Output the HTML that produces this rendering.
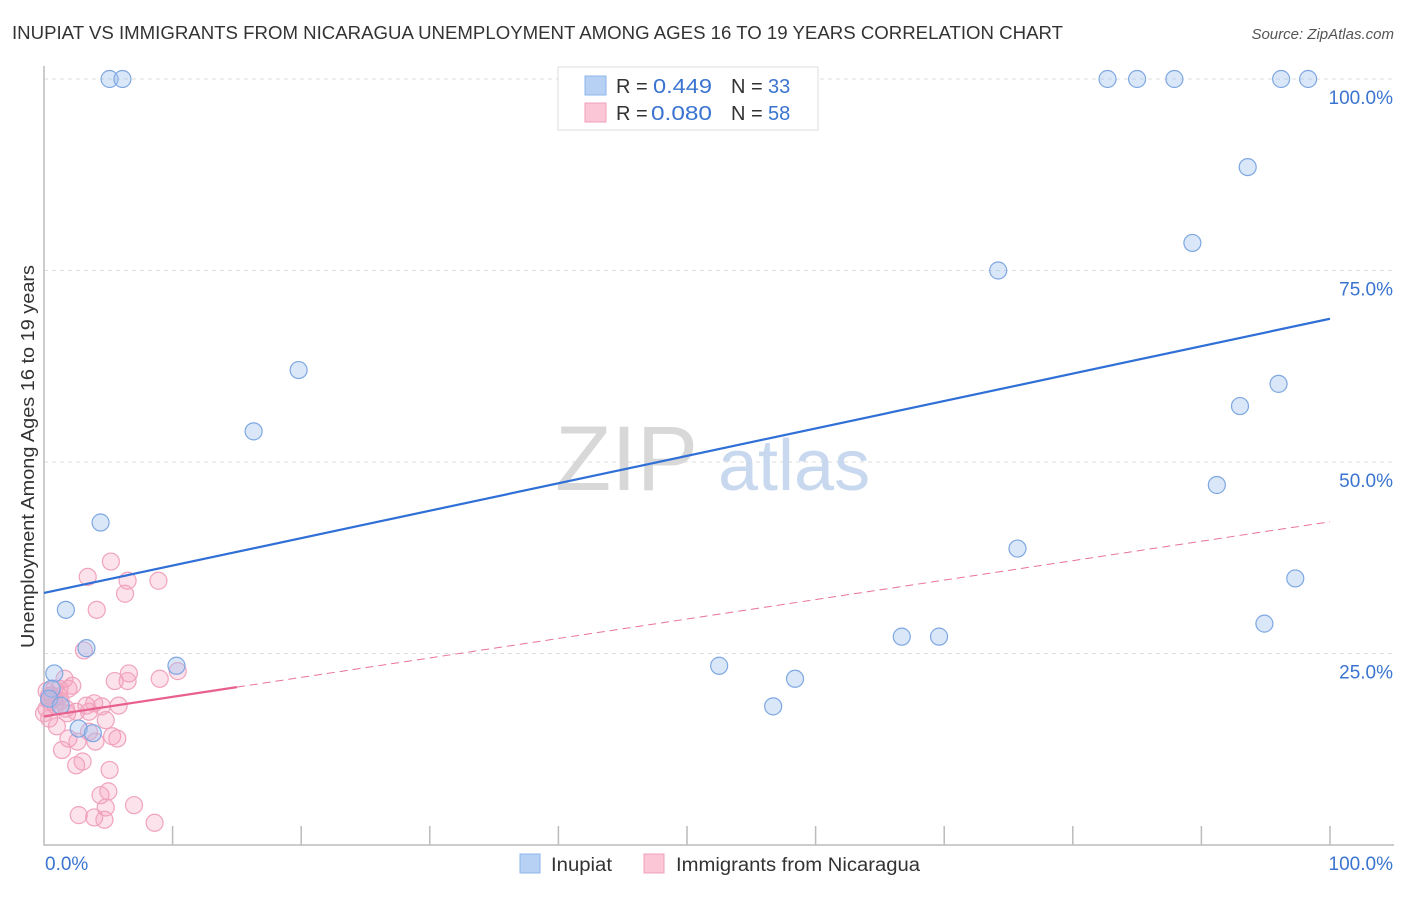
<!DOCTYPE html>
<html><head><meta charset="utf-8">
<style>
body{margin:0;background:#fff;font-family:"Liberation Sans",sans-serif;}
svg text{font-family:"Liberation Sans",sans-serif;}
</style></head>
<body>
<svg id="chart" width="1406" height="892" xmlns="http://www.w3.org/2000/svg">
<text x="12" y="39" font-size="18" fill="#333" textLength="1051" lengthAdjust="spacingAndGlyphs">INUPIAT VS IMMIGRANTS FROM NICARAGUA UNEMPLOYMENT AMONG AGES 16 TO 19 YEARS CORRELATION CHART</text>
<text x="1394" y="39" font-size="15" fill="#555" font-style="italic" text-anchor="end">Source: ZipAtlas.com</text>
<text transform="translate(34,648) rotate(-90)" font-size="18" fill="#333" textLength="383" lengthAdjust="spacingAndGlyphs">Unemployment Among Ages 16 to 19 years</text>
<g id="grid"></g>
<text x="555" y="490" font-size="92" fill="#d8d8d8" font-family="Liberation Serif">ZIP</text>
<text x="718" y="490" font-size="72" fill="#c8d8ee">atlas</text>
<g id="marks"></g>
<g>
<rect x="558" y="67" width="260" height="63" fill="#fff" stroke="#ddd"/>
<rect x="585" y="76" width="21" height="19" fill="#b7d1f5" stroke="#8db4ea"/>
<rect x="585" y="103" width="21" height="19" fill="#fbc6d6" stroke="#f0a0ba"/>
<text x="616" y="93" font-size="20" fill="#333">R = </text><text x="653" y="93" font-size="20" fill="#3a74d0" textLength="59" lengthAdjust="spacingAndGlyphs">0.449</text>
<text x="731" y="93" font-size="20" fill="#333">N = </text><text x="768" y="93" font-size="20" fill="#3a74d0">33</text>
<text x="616" y="120" font-size="20" fill="#333">R = </text><text x="651" y="120" font-size="20" fill="#3a74d0" textLength="61" lengthAdjust="spacingAndGlyphs">0.080</text>
<text x="731" y="120" font-size="20" fill="#333">N = </text><text x="768" y="120" font-size="20" fill="#3a74d0">58</text>
</g>
<g>
<rect x="520" y="854" width="20" height="19" fill="#b7d1f5" stroke="#8db4ea"/>
<text x="551" y="871" font-size="19" fill="#333" textLength="61" lengthAdjust="spacingAndGlyphs">Inupiat</text>
<rect x="644" y="854" width="20" height="19" fill="#fbc6d6" stroke="#f0a0ba"/>
<text x="676" y="871" font-size="19" fill="#333" textLength="244" lengthAdjust="spacingAndGlyphs">Immigrants from Nicaragua</text>
</g>
</svg>
<script>
const blueX=[5.1,6.1,82.7,85.0,87.9,96.2,98.3,93.6,89.3,74.2,19.8,16.3,96.0,93.0,91.2,4.4,75.7,97.3,1.7,94.9,66.7,69.6,3.3,10.3,52.5,58.4,56.7,0.8,2.7,3.8,0.6,0.4,1.3];
const blueY=[100,100,100,100,100,100,100,88.5,78.6,75,62,54,60.2,57.3,47,42.1,38.7,34.8,30.7,28.9,27.2,27.2,25.7,23.4,23.4,21.7,18.1,22.4,15.2,14.6,20.4,19.1,18.2];
const pinkX=[5.2,3.4,6.5,8.9,6.3,4.1,3.1,6.6,5.5,6.5,9.0,10.4,1.6,2.2,0.6,0.4,0.9,1.7,2.5,3.3,4.5,3.5,4.8,0.4,1.0,1.9,2.6,3.5,4.0,5.3,5.7,1.4,2.5,3.0,5.1,4.4,5.0,4.8,7.0,2.7,3.9,4.7,8.6,0.2,0.4,0.8,1.2,0.2,1.3,1.9,0.8,3.9,1.8,0.0,5.8,1.2];
const pinkY=[37.0,35.0,34.5,34.5,32.8,30.7,25.4,22.4,21.4,21.4,21.7,22.7,21.7,20.8,19.5,18.8,18.2,17.8,17.4,18.2,18.1,17.4,16.3,16.5,15.5,13.9,13.5,14.8,13.5,14.2,13.9,12.4,10.4,10.9,9.8,6.5,7.0,4.9,5.2,3.9,3.6,3.3,2.9,20.1,19.5,19.1,19.4,17.8,18.8,20.4,20.4,18.5,17.2,17.2,18.2,20.4];
const blueTrend=[32.9,68.7];
const pinkTrend=[16.8,42.2];
const pinkSolidEnd=15;
const yTicks=[25,50,75,100];
const yTickLabels=["25.0%","50.0%","75.0%","100.0%"];
const xTicks=[10,20,30,40,50,60,70,80,90,100];

const NS="http://www.w3.org/2000/svg";
const X=v=>44+v*12.86, Y=v=>845-v*7.66;
function mk(tag,attrs,parent){const e=document.createElementNS(NS,tag);for(const k in attrs)e.setAttribute(k,attrs[k]);parent.appendChild(e);return e;}
const grid=document.getElementById('grid'), marks=document.getElementById('marks');
yTicks.forEach((t,i)=>{
  const l=mk('line',{x1:44,x2:1394,y1:Y(t),y2:Y(t),stroke:'#ddd','stroke-dasharray':'4,4'},grid);
  
  
  const tx=mk('text',{x:1393,y:Y(t)+25,'font-size':19,fill:'#3a74d0','text-anchor':'end'},grid);
  tx.textContent=yTickLabels[i];
  
  
});
const ax=mk('path',{d:`M44,66 V845 H1394`,fill:'none',stroke:'#bbb','stroke-width':1.5},grid);


xTicks.forEach(t=>{
  const l=mk('line',{x1:X(t),x2:X(t),y1:826,y2:845,stroke:'#bbb','stroke-width':1.5},grid);
  
  
});
const x0=mk('text',{x:45,y:870,'font-size':19,fill:'#3a74d0'},grid);x0.textContent='0.0%';


const x1=mk('text',{x:1393,y:870,'font-size':19,fill:'#3a74d0','text-anchor':'end'},grid);x1.textContent='100.0%';



pinkX.forEach((v,i)=>{
  const c=mk('circle',{cx:X(v),cy:Y(pinkY[i]),r:8.5,fill:'rgba(245,160,190,0.3)',stroke:'#f0a3be','stroke-width':1.2},marks);
  
  
});
blueX.forEach((v,i)=>{
  const c=mk('circle',{cx:X(v),cy:Y(blueY[i]),r:8.5,fill:'rgba(160,195,240,0.4)',stroke:'#7ea7e2','stroke-width':1.2},marks);
  
  
});
const bt=mk('line',{x1:X(0),y1:Y(blueTrend[0]),x2:X(100),y2:Y(blueTrend[1]),stroke:'#2f6fd6','stroke-width':2.2},marks);


const pAt=x=>pinkTrend[0]+(pinkTrend[1]-pinkTrend[0])*x/100;
const pd=mk('line',{x1:X(pinkSolidEnd),y1:Y(pAt(pinkSolidEnd)),x2:X(100),y2:Y(pinkTrend[1]),stroke:'#e8739a','stroke-width':1,'stroke-dasharray':'8,5'},marks);


const ps=mk('line',{x1:X(0),y1:Y(pinkTrend[0]),x2:X(pinkSolidEnd),y2:Y(pAt(pinkSolidEnd)),stroke:'#e8608e','stroke-width':2.2},marks);


</script>
</body></html>
